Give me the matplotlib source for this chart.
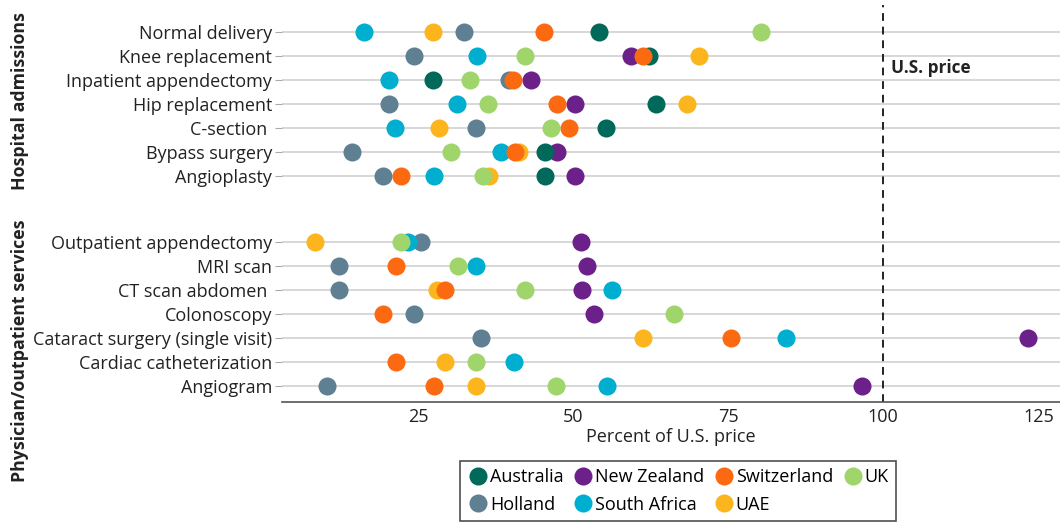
import numpy as np
import matplotlib
matplotlib.use("Agg")
import matplotlib.pyplot as plt
from matplotlib.lines import Line2D

plt.rcParams['font.family'] = ['Open Sans', 'DejaVu Sans']

nan = np.nan
hospital = ["Normal delivery", "Knee replacement", "Inpatient appendectomy",
            "Hip replacement", "C-section ", "Bypass surgery", "Angioplasty"]
outpatient = ["Outpatient appendectomy", "MRI scan", "CT scan abdomen ", "Colonoscopy",
              "Cataract surgery (single visit)", "Cardiac catheterization", "Angiogram"]

australia    = [54.2, 62.3, 27.4, 63.4, 55.3, 45.4, 45.4, nan, nan, nan, nan, nan, nan, nan]
new_zealand  = [nan, 59.4, 43.2, 50.3, nan, 47.4, 50.3, 51.3, 52.3, 51.4, 53.3, 123.4, nan, 96.5]
switzerland  = [45.3, 61.3, 40.3, 47.4, 49.3, 40.6, 22.3, nan, 21.4, 29.4, 19.3, 75.4, 21.4, 27.5]
uk           = [80.3, 42.3, 33.4, 36.3, 46.4, 30.3, 35.4, 22.2, 31.4, 42.3, 66.3, nan, 34.4, 47.3]
holland      = [32.4, 24.4, 39.6, 20.3, 34.3, 14.3, 19.3, 25.5, 12.3, 12.3, 24.4, 35.2, nan, 10.3]
south_africa = [16.3, 34.5, 20.3, 31.3, 21.3, 38.4, 27.5, 23.4, 34.4, 56.3, nan, 84.3, 40.4, 55.4]
uae          = [27.4, 70.3, nan, 68.3, 28.3, 41.3, 36.5, 8.4, nan, 28.0, nan, 61.3, 29.4, 34.4]

xticks = [25, 50, 75, 100, 125]

series = [
    ("Australia", australia, "#00695a", 5),
    ("Holland", holland, "#5f7f92", 1),
    ("New Zealand", new_zealand, "#6b2189", 3),
    ("South Africa", south_africa, "#00afd0", 4),
    ("Switzerland", switzerland, "#fb6a10", 6),
    ("UAE", uae, "#fcb51d", 2),
    ("UK", uk, "#9fd56b", 7),
]

labels = hospital + outpatient
ypos = np.array(list(range(len(hospital))) +
                [len(hospital) + 1.75 + j for j in range(len(outpatient))])

fig = plt.figure(figsize=(10.6, 5.27), dpi=100)
ax = fig.add_axes([282/1060, 1 - 402/527, 1 - 282/1060, (402 - 5)/527])

for y in ypos:
    ax.axhline(y, color="#d4d4d4", lw=1.3, zorder=0)

ax.axvline(100, color="#222222", lw=1.4, ls=(0, (4, 3)), zorder=0.5)
ax.text(101.2, 1.5, "U.S. price", fontsize=12.4, fontweight="bold", color="#222222", va="center")

handles = []
for name, vals, col, z in series:
    ax.plot(vals, ypos, "o", ls="none", ms=13, color=col, mec="none", zorder=2 + z)
    handles.append(Line2D([], [], marker="o", ls="none", ms=13, color=col, mec="none", label=name))

ax.set_xlim(3.06, 128.5)
ax.set_ylim(ypos[-1] + 0.667, -1.125)
ax.set_yticks(ypos)
ax.set_yticklabels(labels, fontsize=13, color="#222222")
ax.set_xticks(xticks)
ax.set_xticklabels([str(t) for t in xticks], fontsize=13, color="#222222")
ax.tick_params(axis="y", length=5, color="#aaaaaa", width=0.8, pad=2)
ax.tick_params(axis="x", length=0, pad=4)
for s in ["top", "right", "left"]:
    ax.spines[s].set_visible(False)
ax.spines["bottom"].set_color("#555555")
ax.spines["bottom"].set_linewidth(1.2)
ax.set_xlabel("Percent of U.S. price", fontsize=13, color="#222222", labelpad=2)

fig.text(20/1060, 1 - 101/527, "Hospital admissions", rotation=90, fontsize=12.8,
         fontweight="bold", ha="center", va="center", color="#222222")
fig.text(20/1060, 1 - 351/527, "Physician/outpatient services", rotation=90, fontsize=12.8,
         fontweight="bold", ha="center", va="center", color="#222222")

leg = fig.legend(handles=handles, ncol=4, loc="center",
                 bbox_to_anchor=(678/1060, 1 - 491/527), frameon=True, fancybox=False,
                 fontsize=13, handletextpad=0.05, columnspacing=0.5, handlelength=1.2,
                 borderpad=0.4, labelspacing=0.5, borderaxespad=0)
leg.get_frame().set_edgecolor("#222222")
leg.get_frame().set_linewidth(1.2)

fig.savefig("out.png", dpi=100)
